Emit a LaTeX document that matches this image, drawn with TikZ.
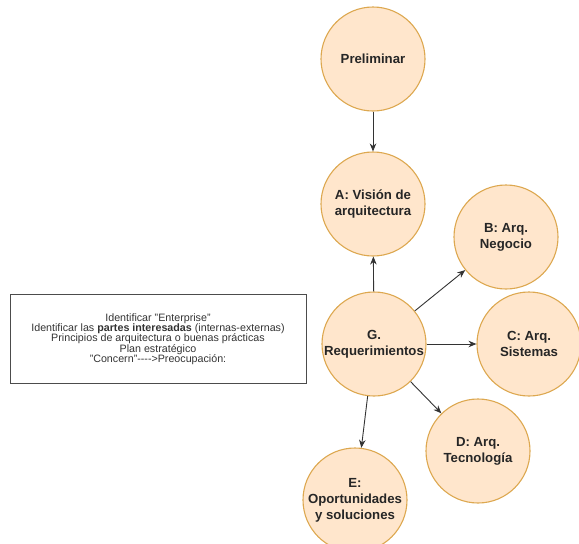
\documentclass[tikz,border=0pt]{standalone}
\usepackage{fontspec}
\setmainfont{Liberation Sans}
\usetikzlibrary{arrows.meta,positioning}
\definecolor{faseFill}{HTML}{FFE6CC}
\definecolor{faseLine}{HTML}{DDA850}
\definecolor{flecha}{HTML}{333333}

\begin{document}
\begin{tikzpicture}[x=1pt,y=-1pt,
    fase/.style={circle, draw=faseLine, fill=faseFill, line width=1.1pt,
      minimum size=104pt, inner sep=0pt, align=center,
      font=\fontsize{13.2}{16}\selectfont\bfseries, text=black!85},
    flujo/.style={draw=flecha, line width=0.9pt, -{Stealth[length=8pt,width=6.5pt]}}]
  \useasboundingbox (0,0) rectangle (579,544);
  % fases del ciclo
  \node[fase] (pre) at (373,59) {Preliminar};
  \node[fase] (a) at (373,204) {A: Visión de\\arquitectura};
  \node[fase] (b) at (506,237) {B: Arq.\\Negocio};
  \node[fase] (g) at (374,344) {G.\\Requerimientos};
  \node[fase] (c) at (529,344) {C: Arq.\\Sistemas};
  \node[fase] (d) at (478,451) {D: Arq.\\Tecnología};
  \node[fase] (e) at (355,500) {E:\\Oportunidades\\y soluciones};
  % nota
  \node[draw=black!70, line width=1pt, minimum width=296pt, minimum height=89pt,
    align=center, font=\fontsize{10.7}{10.3}\selectfont, text=black!80] (nota) at (158,339)
    {Identificar "Enterprise"\\
     Identificar las \textbf{partes interesadas} (internas-externas)\\
     Principios de arquitectura o buenas prácticas\\
     Plan estratégico\\
     "Concern"{-}{-}{-}{-}>Preocupación:};
  % flechas
  \draw[flujo] (pre) -- (a);
  \draw[flujo] (g) -- (a);
  \draw[flujo] (g) -- (b);
  \draw[flujo] (g) -- (c);
  \draw[flujo] (g) -- (d);
  \draw[flujo] (g) -- (e);
\end{tikzpicture}
\end{document}
